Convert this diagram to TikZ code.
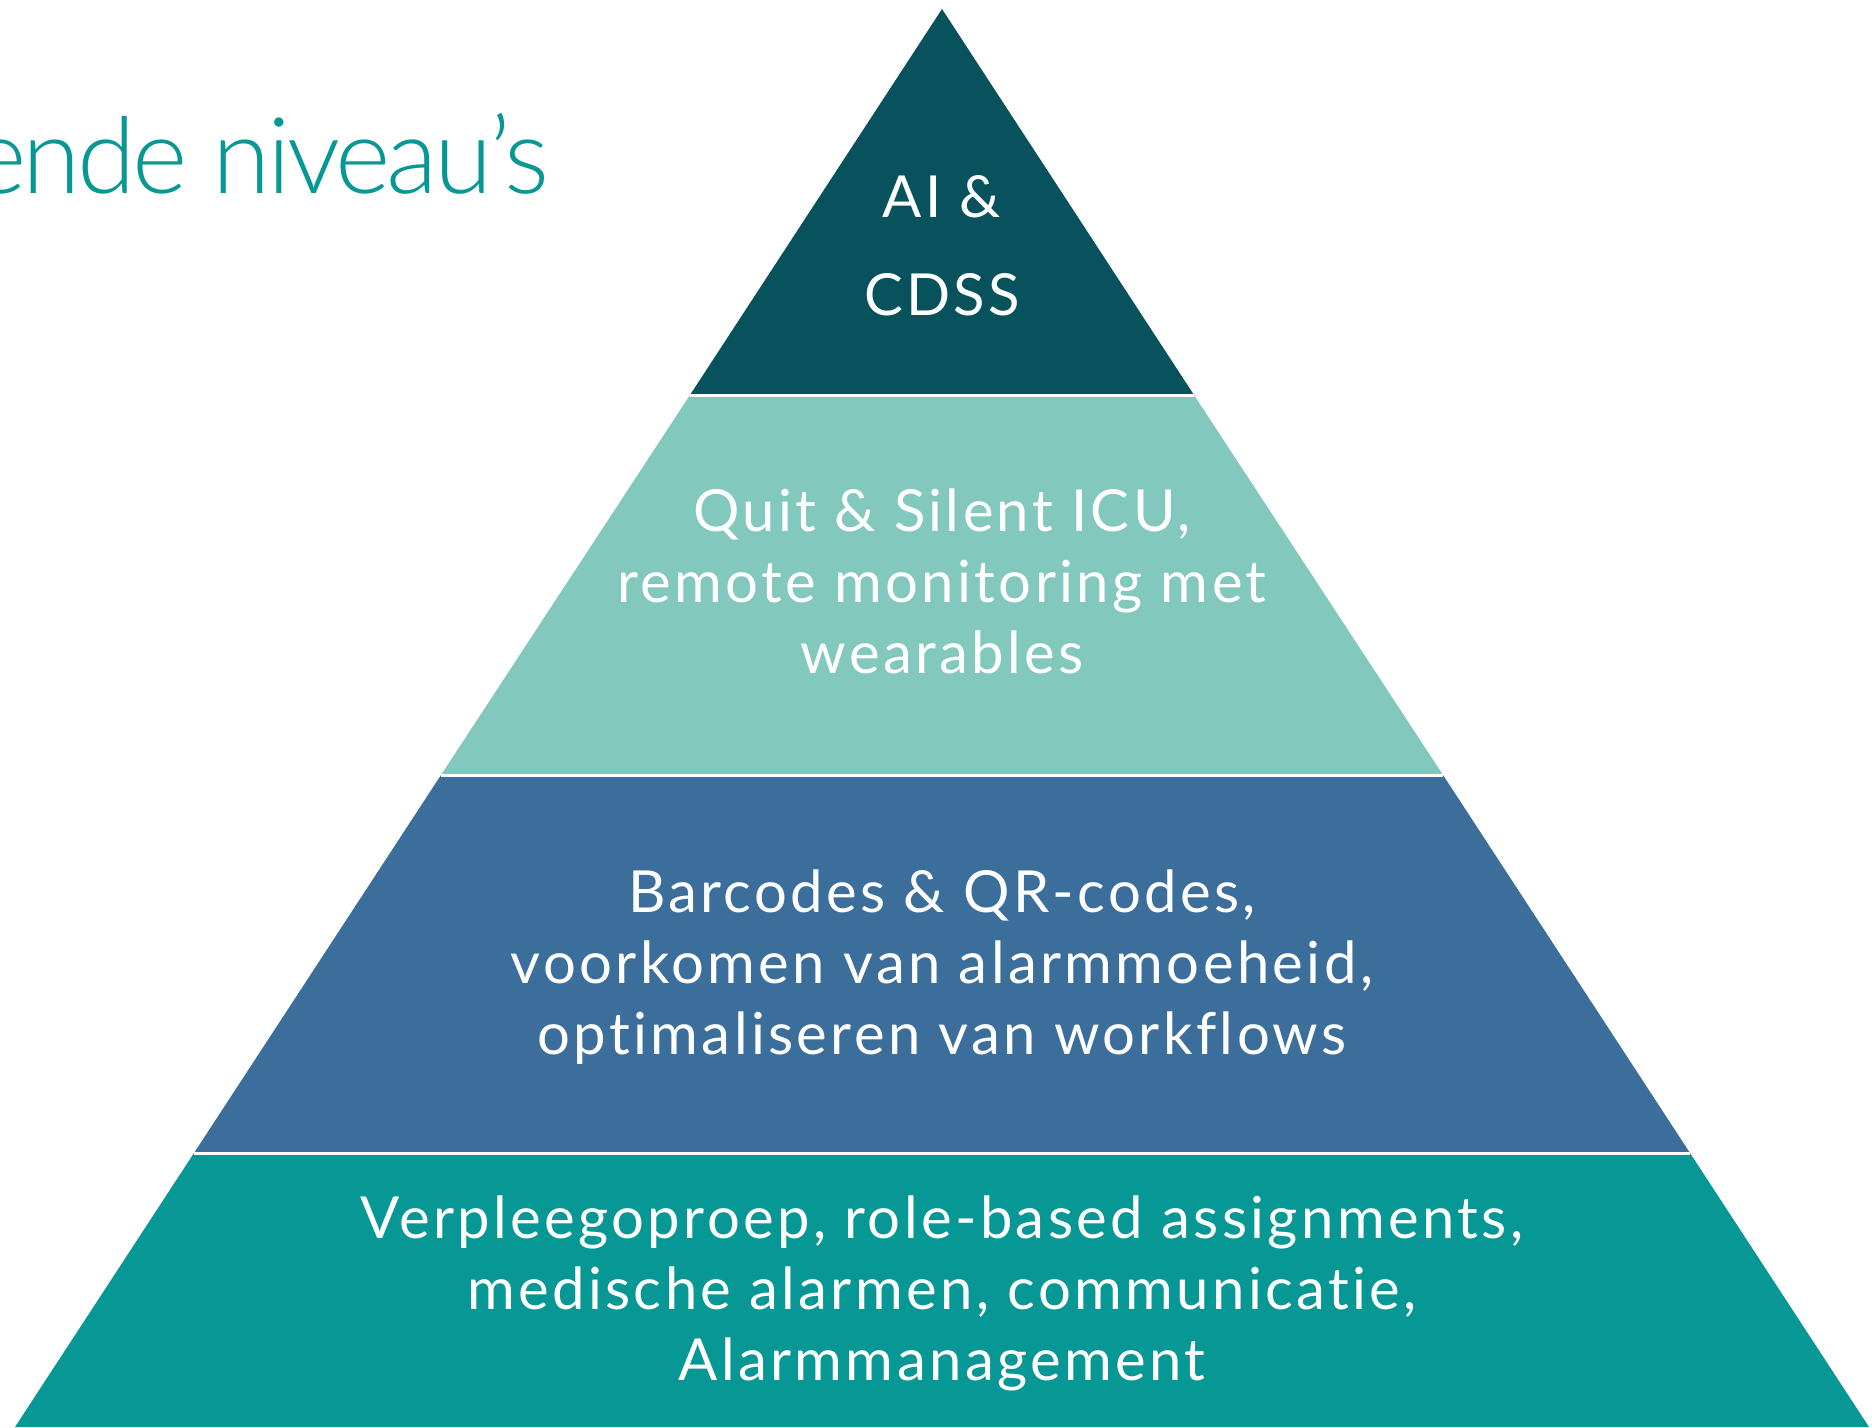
\documentclass[tikz,border=0pt]{standalone}
\usepackage{fontspec}
\setmainfont{Lato}[LetterSpace=5.8, Ligatures=NoCommon]
\newfontfamily\titlefont{Lato Light}[LetterSpace=-3.5, Ligatures=NoCommon]
\usepackage{tikz}
\usetikzlibrary{positioning}
\definecolor{layertop}{HTML}{08525E}
\definecolor{layermint}{HTML}{82C8BC}
\definecolor{layerblue}{HTML}{3C6E9C}
\definecolor{layerteal}{HTML}{079794}

\begin{document}
\begin{tikzpicture}[x=0.5pt, y=-0.5pt,
    layertext/.style={text=white, align=center, inner sep=0pt,
        font=\fontsize{29}{35.5}\selectfont},
    sepline/.style={white, line width=1.5pt}]

    \useasboundingbox (0,0) rectangle (1872,1428);

    % Title (cut off on the left)
    \node[anchor=base east, inner sep=0pt, text=layerteal,
          font=\titlefont\fontsize{53}{60}\selectfont] (title) at (550,194) {ende niveau’s};

    % Pyramid layers, top to bottom
    \fill[layertop]  (942,9) -- (1194,395) -- (690,395) -- cycle;
    \fill[layermint] (690,395) -- (1194,395) -- (1443,775) -- (441,775) -- cycle;
    \fill[layerblue] (441,775) -- (1443,775) -- (1690,1153) -- (194,1153) -- cycle;
    \fill[layerteal] (194,1153) -- (1690,1153) -- (1869,1427) -- (15,1427) -- cycle;

    % White gaps between the layers
    \draw[sepline] (690,395) -- (1194,395);
    \draw[sepline] (441,775) -- (1443,775);
    \draw[sepline] (194,1153) -- (1690,1153);

    % Layer texts
    \node[layertext] (tip) at (942,246) {AI \&\\[13.5pt] CDSS};
    \node[layertext] (quiet) at (942,581)
        {Quit \& Silent ICU,\\ remote monitoring met\\ wearables};
    \node[layertext] (codes) at (942,967)
        {Barcodes \& QR-codes,\\ voorkomen van alarmmoeheid,\\ optimaliseren van workflows};
    \node[layertext] (base) at (942,1293)
        {Verpleegoproep, role-based assignments,\\ medische alarmen, communicatie,\\ Alarmmanagement};

\end{tikzpicture}
\end{document}
